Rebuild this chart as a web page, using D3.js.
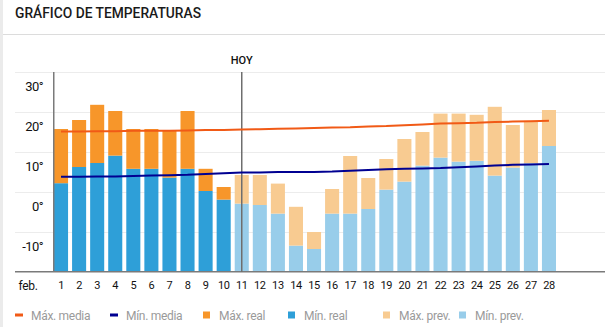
<!DOCTYPE html>
<html>
<head>
<meta charset="utf-8">
<script src="https://cdn.jsdelivr.net/npm/d3@7"></script>
<style>
  html, body { margin: 0; padding: 0; background: #fff; }
  svg { display: block; font-family: Roboto, 'Noto Sans', sans-serif; }
</style>
</head>
<body>
<div id="chart"></div>
<script>
const days = [1, 2, 3, 4, 5, 6, 7, 8, 9, 10, 11, 12, 13, 14, 15, 16, 17, 18, 19, 20, 21, 22, 23, 24, 25, 26, 27, 28];
const maxTemps = [15.75, 18, 21.8, 20.25, 15.75, 15.75, 15.3, 20.25, 5.8, 1.25, 4.25, 4.25, 2.1, -3.7, -10, 0.75, 9, 3.5, 8.25, 13.25, 15, 19.6, 19.6, 19.3, 21.3, 16.75, 17.8, 20.5];
const minTemps = [2.2, 6.25, 7.25, 9.1, 5.8, 5.8, 3.6, 5.8, 0.25, -1.9, -2.9, -3.25, -5.4, -13.4, -14.25, -5.4, -5.4, -4.25, 0.6, 2.6, 6.6, 8.6, 7.6, 7.8, 4.1, 6.1, 7.2, 11.5];
const maxMedia = [15.1, 15.1, 15.2, 15.2, 15.3, 15.3, 15.3, 15.4, 15.5, 15.5, 15.6, 15.7, 15.8, 15.9, 16.0, 16.1, 16.2, 16.4, 16.5, 16.7, 16.9, 17.1, 17.2, 17.3, 17.5, 17.6, 17.7, 17.8];
const minMedia = [3.8, 3.8, 3.9, 3.9, 4.0, 4.1, 4.2, 4.3, 4.5, 4.7, 4.9, 4.9, 5.0, 5.0, 5.0, 5.1, 5.3, 5.5, 5.7, 5.8, 5.9, 6.0, 6.2, 6.4, 6.6, 6.8, 6.9, 7.0];
const today = 11;
const yTicks = [-20, -10, 0, 10, 20, 30];
const monthLabel = 'feb.';

const COLORS = {
  maxMedia: '#f15a16',
  minMedia: '#000092',
  maxReal: '#f7962a',
  minReal: '#2e9fd8',
  maxPrev: '#f8cb91',
  minPrev: '#98cdea'
};

const legendItems = [
  { label: 'Máx. media', color: COLORS.maxMedia, type: 'line', x: 15 },
  { label: 'Mín. media', color: COLORS.minMedia, type: 'line', x: 110 },
  { label: 'Máx. real', color: COLORS.maxReal, type: 'box', x: 203 },
  { label: 'Mín. real', color: COLORS.minReal, type: 'box', x: 288 },
  { label: 'Máx. prev.', color: COLORS.maxPrev, type: 'box', x: 383 },
  { label: 'Mín. prev.', color: COLORS.minPrev, type: 'box', x: 459 }
];

const width = 605;
const height = 327;

const svg = d3.select('#chart')
  .append('svg')
  .attr('width', width)
  .attr('height', height);

// page frame: left strip, title and separator
svg.append('rect').attr('x', 0).attr('y', 0).attr('width', 3).attr('height', height).attr('fill', '#ebebeb');
svg.append('text')
  .attr('x', 15).attr('y', 18)
  .attr('font-size', 15).attr('font-weight', 500)
  .attr('fill', '#1a1a1a')
  .attr('textLength', 186).attr('lengthAdjust', 'spacingAndGlyphs')
  .text('GRÁFICO DE TEMPERATURAS');
svg.append('line').attr('x1', 3).attr('x2', width).attr('y1', 34.5).attr('y2', 34.5)
  .attr('stroke', '#dcdcdc').attr('stroke-width', 1);

const x = d3.scaleBand()
  .domain(days)
  .range([53, 53 + days.length * 18])
  .paddingInner(4 / 18)
  .paddingOuter(1 / 18);

const y = d3.scaleLinear()
  .domain([-20, 30])
  .range([272, 72]);

// grid
svg.append('g')
  .selectAll('line')
  .data(yTicks.filter(t => t > -20))
  .enter()
  .append('line')
  .attr('x1', 15).attr('x2', width)
  .attr('y1', d => y(d) + 0.5).attr('y2', d => y(d) + 0.5)
  .attr('stroke', '#ececec');

// y labels sit below their grid line
svg.append('g')
  .selectAll('text')
  .data(yTicks.filter(t => t > -20))
  .enter()
  .append('text')
  .attr('x', 43).attr('y', d => y(d) + 19)
  .attr('text-anchor', 'end')
  .attr('font-size', 13).attr('letter-spacing', -0.6)
  .attr('fill', '#111')
  .text(d => d + '°');

const isReal = d => d < today;

const bars = svg.append('g');
bars.selectAll('.min-bar')
  .data(days)
  .enter()
  .append('rect')
  .attr('class', 'min-bar')
  .attr('x', d => x(d))
  .attr('width', x.bandwidth())
  .attr('y', (d, i) => y(minTemps[i]))
  .attr('height', (d, i) => y(-20) - y(minTemps[i]))
  .attr('fill', d => isReal(d) ? COLORS.minReal : COLORS.minPrev);

bars.selectAll('.max-bar')
  .data(days)
  .enter()
  .append('rect')
  .attr('class', 'max-bar')
  .attr('x', d => x(d))
  .attr('width', x.bandwidth())
  .attr('y', (d, i) => y(maxTemps[i]))
  .attr('height', (d, i) => y(minTemps[i]) - y(maxTemps[i]))
  .attr('fill', d => isReal(d) ? COLORS.maxReal : COLORS.maxPrev);

// axes lines
svg.append('line').attr('x1', 15).attr('x2', width).attr('y1', 271.75).attr('y2', 271.75)
  .attr('stroke', '#7a7a7a').attr('stroke-width', 1.5);
svg.append('line').attr('x1', 53.75).attr('x2', 53.75).attr('y1', 72).attr('y2', 272)
  .attr('stroke', '#7a7a7a').attr('stroke-width', 1.5);

// today marker
const todayX = x(today) + x.bandwidth() / 2;
svg.append('line').attr('x1', todayX).attr('x2', todayX).attr('y1', 72).attr('y2', 272)
  .attr('stroke', '#6e6e6e').attr('stroke-width', 1.5);
svg.append('text')
  .attr('x', todayX).attr('y', 64)
  .attr('text-anchor', 'middle')
  .attr('font-size', 11).attr('font-weight', 500)
  .attr('fill', '#111')
  .text('HOY');

// average lines
const cx = d => x(d) + x.bandwidth() / 2;
const line = d3.line().x(d => cx(d[0])).y(d => y(d[1]));
svg.append('path')
  .attr('d', line(days.map((d, i) => [d, maxMedia[i]])))
  .attr('fill', 'none').attr('stroke', COLORS.maxMedia).attr('stroke-width', 2);
svg.append('path')
  .attr('d', line(days.map((d, i) => [d, minMedia[i]])))
  .attr('fill', 'none').attr('stroke', COLORS.minMedia).attr('stroke-width', 2);

// x labels
svg.append('g')
  .selectAll('text')
  .data(days)
  .enter()
  .append('text')
  .attr('x', d => cx(d)).attr('y', 289)
  .attr('text-anchor', 'middle')
  .attr('font-size', 11).attr('letter-spacing', -0.4)
  .attr('fill', '#111')
  .text(d => d);
svg.append('text')
  .attr('x', 28).attr('y', 289.5)
  .attr('text-anchor', 'middle')
  .attr('font-size', 12).attr('letter-spacing', -0.3)
  .attr('fill', '#111')
  .text(monthLabel);

// legend
const legend = svg.append('g')
  .selectAll('g')
  .data(legendItems)
  .enter()
  .append('g')
  .attr('transform', d => `translate(${d.x},315)`);
legend.filter(d => d.type === 'line')
  .append('rect')
  .attr('x', 0).attr('y', -1.5).attr('width', 8).attr('height', 3)
  .attr('fill', d => d.color);
legend.filter(d => d.type === 'box')
  .append('rect')
  .attr('x', 0).attr('y', -3.5).attr('width', 7).attr('height', 7)
  .attr('fill', d => d.color);
legend.append('text')
  .attr('x', 16)
  .attr('y', 4.5)
  .attr('font-size', 12).attr('letter-spacing', -0.3)
  .attr('fill', '#9a9a9a')
  .text(d => d.label);
</script>
</body>
</html>
